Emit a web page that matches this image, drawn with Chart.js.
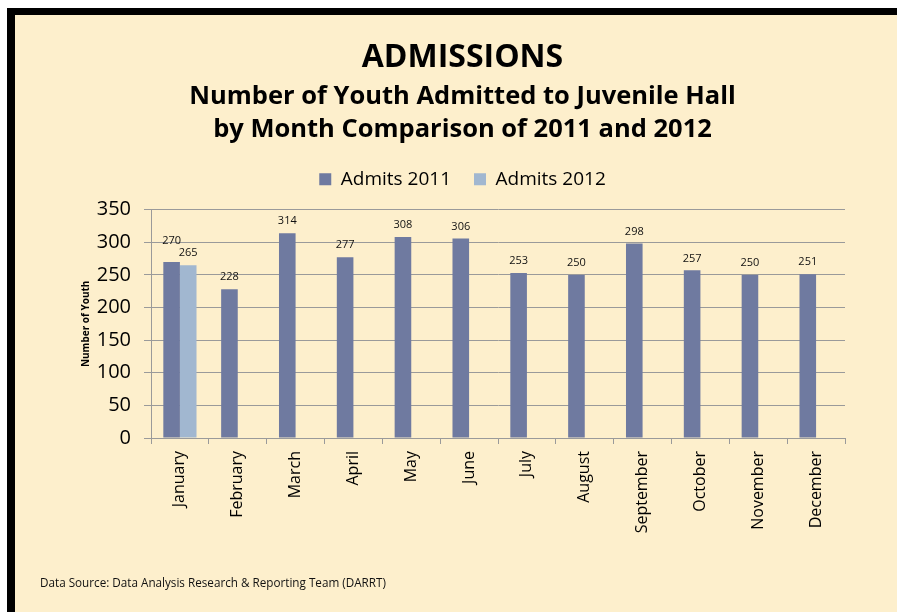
<!DOCTYPE html>
<html>
<head>
<meta charset="utf-8">
<script src="https://cdn.jsdelivr.net/npm/chart.js@4"></script>
<style>
  html, body { margin: 0; padding: 0; background: #fff; }
  body { width: 897px; height: 612px; position: relative; overflow: hidden; font-family: "Open Sans", sans-serif; }
  #frame {
    position: absolute; left: 7px; top: 8px; width: 900px; height: 601px;
    background: #FDEFCC; border-left: 8px solid #000; border-top: 7px solid #000; border-bottom: 2px solid #000;
  }
  #wrap { position: absolute; left: 0; top: 0; width: 882px; height: 595px; }
  #source { position: absolute; left: 25px; top: 559px; font-size: 11.7px; color: #111; }
</style>
</head>
<body>
<div id="frame">
  <div id="wrap"><canvas id="admissionsChart"></canvas></div>
  <div id="source">Data Source: Data Analysis Research &amp; Reporting Team (DARRT)</div>
</div>
<script>
// data
const months = ["January", "February", "March", "April", "May", "June", "July", "August", "September", "October", "November", "December"];
const admits2011 = [270, 228, 314, 277, 308, 306, 253, 250, 298, 257, 250, 251];
const admits2012 = [265, null, null, null, null, null, null, null, null, null, null, null];

const FONT = '"Open Sans", sans-serif';

// small labels above each bar (2011 label lifted when a 2012 bar sits next to it)
const barLabels = {
  id: 'barLabels',
  afterDatasetsDraw(chart) {
    const ctx = chart.ctx;
    ctx.save();
    ctx.font = '11px ' + FONT;
    ctx.fillStyle = '#111';
    ctx.textAlign = 'center';
    ctx.textBaseline = 'middle';
    chart.data.datasets.forEach((ds, i) => {
      chart.getDatasetMeta(i).data.forEach((bar, j) => {
        if (ds.data[j] == null) return;
        let lift = 12;
        if (i === 0 && admits2012[j] != null) lift = 21;
        ctx.fillText(ds.data[j], bar.x, bar.y - lift);
      });
    });
    ctx.restore();
  }
};

// extra room between legend and plot
const legendGap = {
  id: 'legendGap',
  afterInit(chart) {
    const fit = chart.legend.fit;
    chart.legend.fit = function () {
      fit.call(this);
      this.height += 11;
    };
  }
};

new Chart(document.getElementById("admissionsChart"), {
  type: "bar",
  data: {
    labels: months,
    datasets: [
      { label: "Admits 2011", data: admits2011, backgroundColor: "#6F7AA0" },
      { label: "Admits 2012", data: admits2012, backgroundColor: "#A1B7D0" }
    ]
  },
  options: {
    responsive: true,
    maintainAspectRatio: false,
    animation: false,
    datasets: { bar: { categoryPercentage: 0.574, barPercentage: 1 } },
    layout: { padding: { left: 65, right: 52, top: 0, bottom: 0 } },
    plugins: {
      tooltip: { enabled: false },
      title: {
        display: true,
        text: "ADMISSIONS",
        color: "#000",
        font: { family: FONT, size: 32, weight: "bold", lineHeight: 1.2 },
        padding: { top: 24, bottom: 3 }
      },
      subtitle: {
        display: true,
        text: ["Number of Youth Admitted to Juvenile Hall", "by Month Comparison of 2011 and 2012"],
        color: "#000",
        font: { family: FONT, size: 25.5, weight: "bold", lineHeight: 1.3 },
        padding: { top: 0, bottom: 0 }
      },
      legend: {
        position: "top",
        labels: {
          color: "#000",
          font: { family: FONT, size: 19 },
          boxWidth: 12, boxHeight: 12, padding: 23
        }
      }
    },
    scales: {
      x: {
        afterFit(scale) { scale.height = 172; },
        grid: { drawOnChartArea: false, color: "#9a9a9a", tickLength: 6, offset: true },
        border: { color: "#9a9a9a" },
        ticks: { color: "#000", font: { family: FONT, size: 16 }, minRotation: 90, maxRotation: 90, padding: 7 }
      },
      y: {
        min: 0, max: 350,
        afterFit(scale) { scale.width = 71; },
        ticks: { stepSize: 50, color: "#000", font: { family: FONT, size: 20 }, padding: 13 },
        grid: { color: "#9a9a9a", tickLength: 7 },
        border: { color: "#9a9a9a" },
        title: { display: true, text: "Number of Youth", color: "#000", font: { family: FONT, size: 10, weight: "bold" }, padding: 0 }
      }
    }
  },
  plugins: [barLabels, legendGap]
});
</script>
</body>
</html>
